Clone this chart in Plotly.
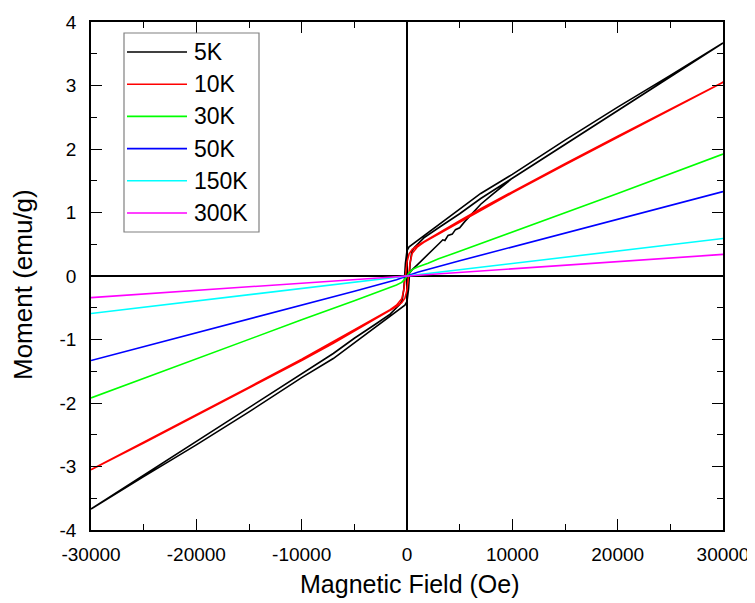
import plotly.graph_objects as go

# ---------------- data ----------------
series_names = ["5K", "10K", "30K", "50K", "150K", "300K"]
series_colors = ["#000000", "#ff0000", "#00ff00", "#0000ff", "#00ffff", "#ff00ff"]

# 5K : virgin curve, descending branch, ascending branch
h5_virgin = [0, 500, 1000, 2000, 3100, 3400, 3600, 3900, 4300, 4600, 5000, 5500, 6000, 7000, 8000,
             10000, 15000, 20000, 25000, 30000]
m5_virgin = [0, 0.1, 0.18, 0.35, 0.52, 0.57, 0.56, 0.64, 0.66, 0.73, 0.76, 0.86, 0.95, 1.13, 1.27,
             1.54, 2.07, 2.6, 3.13, 3.67]
h5_down = [30000, 25000, 20000, 15000, 10000, 7000, 5000, 3000, 2000, 1000, 500, 200, 0, -150, -300,
           -450, -700, -1000, -1600, -3000, -5000, -7000, -10000, -15000, -20000, -25000, -30000]
m5_down = [3.67, 3.16, 2.66, 2.14, 1.6, 1.3, 1.05, 0.8, 0.68, 0.56, 0.5, 0.46, 0.4, 0.2, -0.2,
           -0.38, -0.45, -0.5, -0.6, -0.76, -0.98, -1.22, -1.54, -2.07, -2.6, -3.13, -3.67]
h5_up = [-30000, -25000, -20000, -15000, -10000, -7000, -5000, -3000, -2000, -1000, -500, -200, 0, 150,
         300, 450, 700, 1000, 1600, 3000, 5000, 7000, 10000, 15000, 20000, 25000, 30000]
m5_up = [-3.67, -3.16, -2.66, -2.14, -1.6, -1.3, -1.05, -0.8, -0.68, -0.56, -0.5, -0.46, -0.4, -0.2,
         0.2, 0.38, 0.45, 0.5, 0.6, 0.76, 0.98, 1.22, 1.54, 2.07, 2.6, 3.13, 3.67]

# 10K : descending and ascending branches
h10_down = [30000, 25000, 20000, 15000, 10000, 7000, 5000, 3000, 2000, 1000, 500, 200, 0, -150, -300,
            -500, -800, -1000, -1600, -3000, -5000, -7000, -10000, -15000, -20000, -25000, -30000]
m10_down = [3.05, 2.63, 2.2, 1.77, 1.33, 1.06, 0.87, 0.68, 0.58, 0.48, 0.42, 0.35, 0.22, 0.0, -0.22,
            -0.36, -0.43, -0.46, -0.53, -0.66, -0.85, -1.04, -1.31, -1.75, -2.18, -2.62, -3.05]
h10_up = [-30000, -25000, -20000, -15000, -10000, -7000, -5000, -3000, -2000, -1000, -500, -200, 0, 150,
          300, 500, 800, 1000, 1600, 3000, 5000, 7000, 10000, 15000, 20000, 25000, 30000]
m10_up = [-3.05, -2.63, -2.2, -1.77, -1.33, -1.06, -0.87, -0.68, -0.58, -0.48, -0.42, -0.35, -0.22, 0.0,
          0.22, 0.36, 0.43, 0.46, 0.53, 0.66, 0.85, 1.04, 1.31, 1.75, 2.18, 2.62, 3.05]

# 30K
h30 = [-30000, -20000, -10000, -5000, -3000, -2000, -1000, -500, -200, 0, 200, 500, 1000, 2000, 3000,
       5000, 10000, 20000, 30000]
m30 = [-1.92, -1.3, -0.69, -0.39, -0.27, -0.2, -0.14, -0.1, -0.05, 0, 0.05, 0.1, 0.14, 0.2, 0.27,
       0.39, 0.69, 1.3, 1.92]

# 50K
h50 = [-30000, -15000, -5000, -1000, 0, 1000, 5000, 15000, 30000]
m50 = [-1.33, -0.68, -0.24, -0.06, 0, 0.06, 0.24, 0.68, 1.33]

# 150K
h150 = [-30000, -10000, 0, 10000, 30000]
m150 = [-0.59, -0.2, 0, 0.2, 0.59]

# 300K
h300 = [-30000, -10000, 0, 10000, 30000]
m300 = [-0.34, -0.115, 0, 0.115, 0.34]

x_tickvals = [-30000, -20000, -10000, 0, 10000, 20000, 30000]
x_ticktext = ["-30000", "-20000", "-10000", "0", "10000", "20000", "30000"]
y_tickvals = [-4, -3, -2, -1, 0, 1, 2, 3, 4]
y_ticktext = ["-4", "-3", "-2", "-1", "0", "1", "2", "3", "4"]

x_title = "Magnetic Field (Oe)"
y_title = "Moment (emu/g)"

# ---------------- figure ----------------
FONT = "Liberation Sans, Arial, sans-serif"
series_x = [h5_virgin + h5_down + h5_up, h10_down + h10_up, h30, h50, h150, h300]
series_y = [m5_virgin + m5_down + m5_up, m10_down + m10_up, m30, m50, m150, m300]

fig = go.Figure()
for name, col, xs, ys in zip(series_names, series_colors, series_x, series_y):
    fig.add_trace(go.Scatter(x=xs, y=ys, mode="lines", name=name,
                             line=dict(color=col, width=1.6), showlegend=False))

axis_common = dict(
    showgrid=False, zeroline=True, zerolinecolor="black", zerolinewidth=1.6,
    showline=True, linecolor="black", linewidth=1.6, mirror="allticks",
    ticks="inside", ticklen=11, tickwidth=1.4, tickcolor="black",
    tickfont=dict(family=FONT, size=19, color="black"),
)
fig.update_xaxes(range=[-30000, 30000], tickmode="array", tickvals=x_tickvals, ticktext=x_ticktext,
                 minor=dict(ticks="inside", ticklen=6, tickwidth=1.4, tickcolor="black", dtick=5000,
                            tick0=0, showgrid=False),
                 ticklabelstandoff=6, **axis_common)
fig.update_yaxes(range=[-4, 4], tickmode="array", tickvals=y_tickvals, ticktext=y_ticktext,
                 minor=dict(ticks="inside", ticklen=6, tickwidth=1.4, tickcolor="black", dtick=0.5,
                            tick0=0, showgrid=False),
                 ticklabelstandoff=9, **axis_common)

# page pixel positions of the plot area (page has an 8px body margin)
OFF = 8
L, R, T, B = 91, 723, 22, 530
W, H = R - L, B - T
def px(x):
    return (x - L) / W
def py(y):
    return (B - y) / H

shapes = [dict(type="rect", xref="paper", yref="paper", x0=px(124), x1=px(259), y0=py(232), y1=py(33),
               line=dict(color="#808080", width=1.2), fillcolor="white", layer="above")]
annotations = []
for i, (name, col) in enumerate(zip(series_names, series_colors)):
    yc = 52 + i * 32.2
    shapes.append(dict(type="line", xref="paper", yref="paper", x0=px(127), x1=px(187),
                       y0=py(yc), y1=py(yc), line=dict(color=col, width=1.6), layer="above"))
    annotations.append(dict(text=name, xref="paper", yref="paper", x=px(192), y=py(yc),
                            xanchor="left", yanchor="middle", showarrow=False,
                            font=dict(family=FONT, size=23, color="black")))

annotations.append(dict(text=x_title, xref="paper", yref="paper", x=px(410), y=py(584),
                        xanchor="center", yanchor="middle", showarrow=False,
                        font=dict(family=FONT, size=25, color="black")))
annotations.append(dict(text=y_title, xref="paper", yref="paper", x=px(23), y=py(285),
                        xanchor="center", yanchor="middle", showarrow=False, textangle=-90,
                        font=dict(family=FONT, size=26, color="black")))

fig.update_layout(
    width=755, height=603,
    margin=dict(l=L - OFF, r=755 - R + OFF, t=T - OFF, b=603 - B + OFF, autoexpand=False),
    paper_bgcolor="white", plot_bgcolor="white",
    shapes=shapes, annotations=annotations, showlegend=False,
    font=dict(family=FONT, color="black"),
)

fig.write_html("out.html")
